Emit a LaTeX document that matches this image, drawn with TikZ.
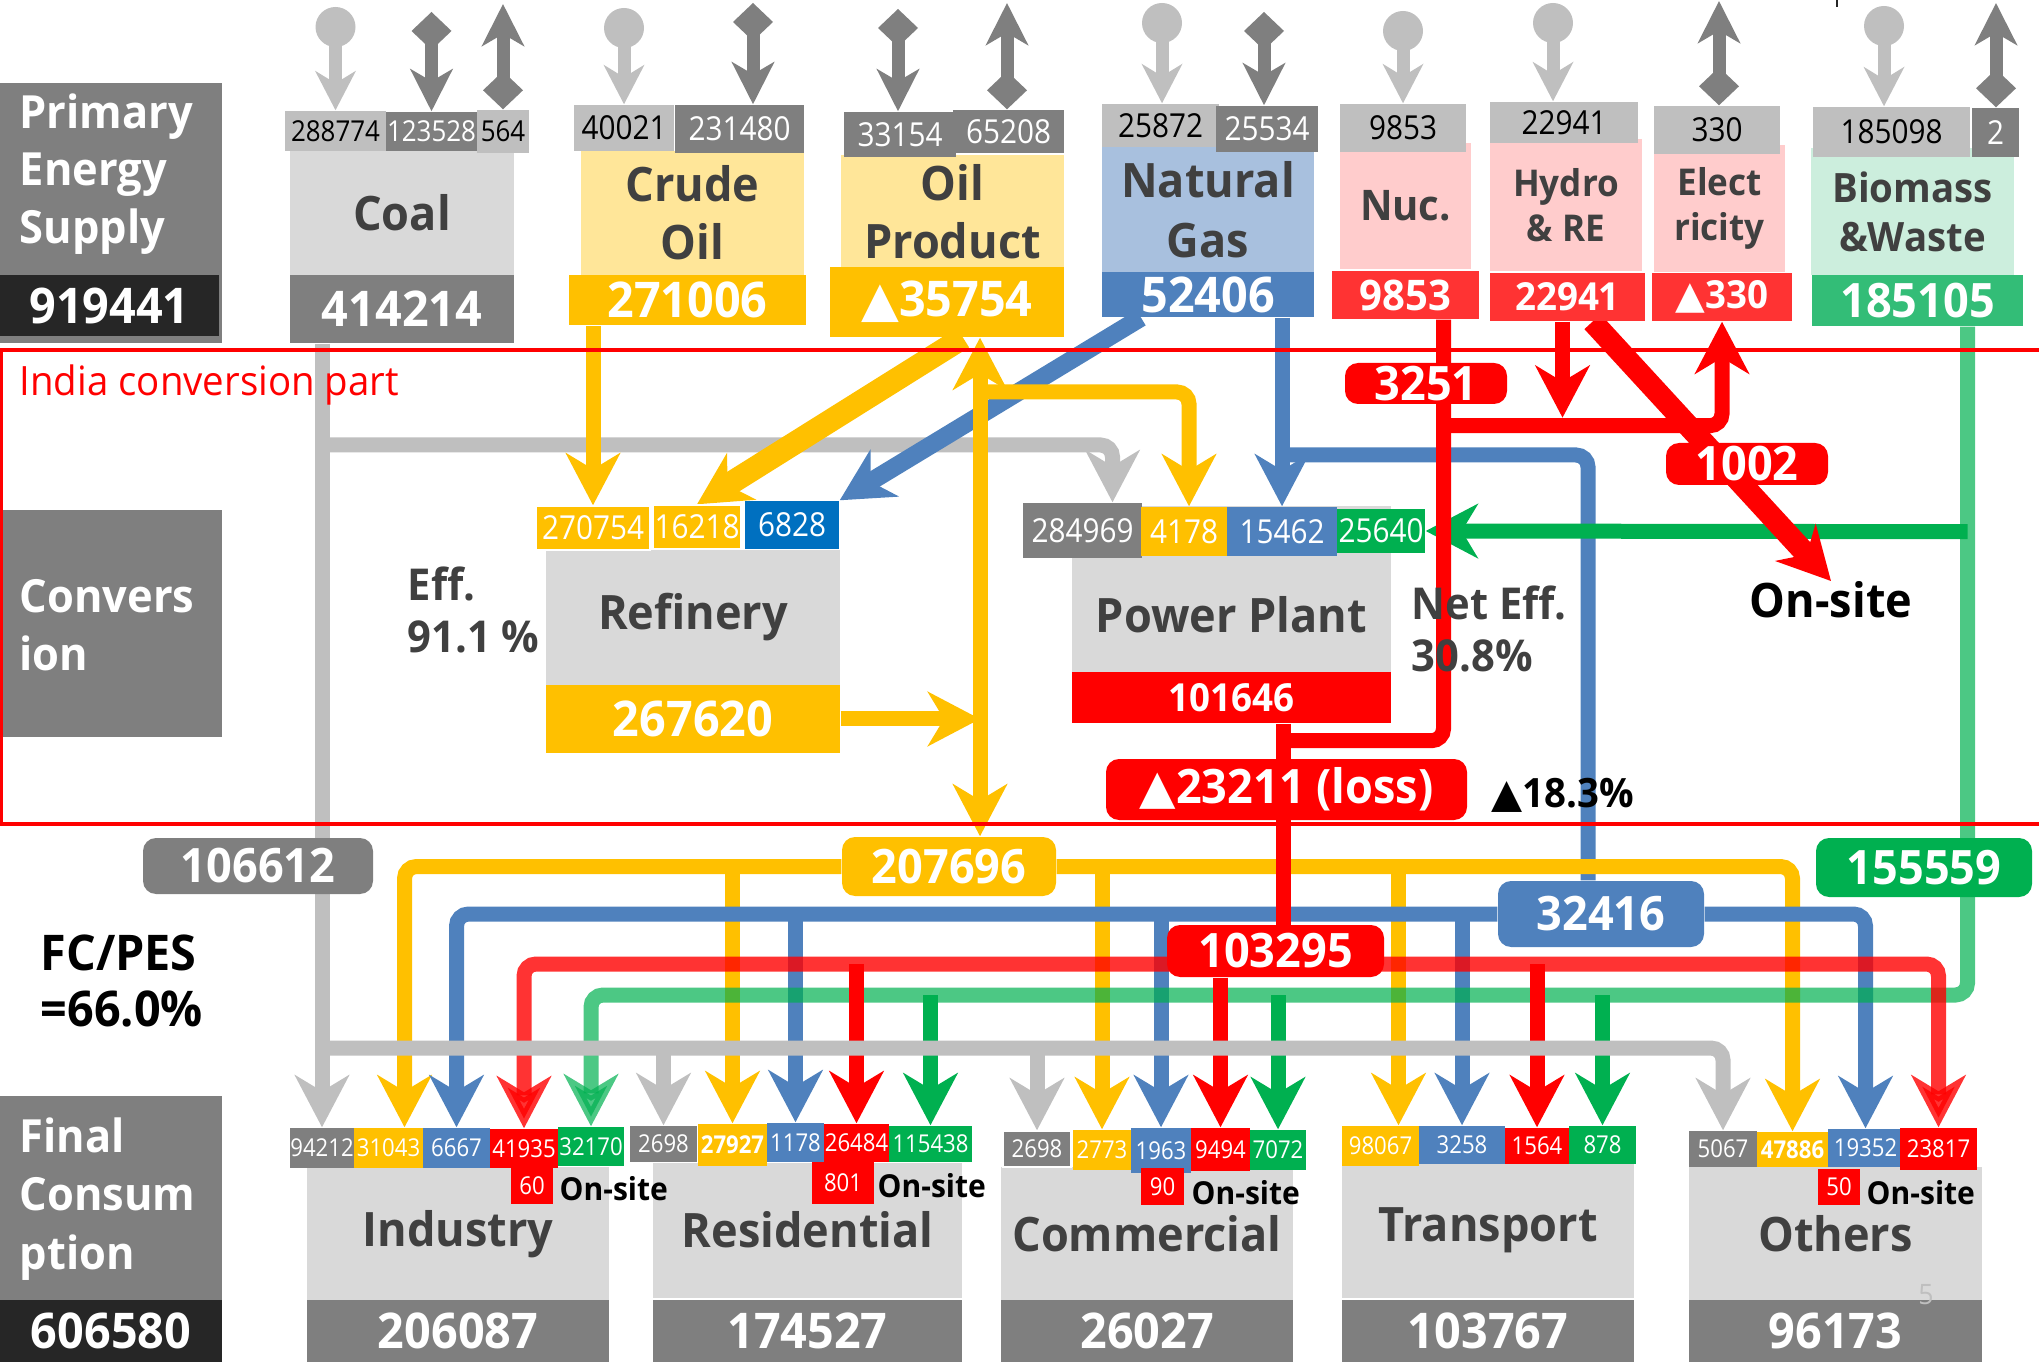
\documentclass[tikz,border=0pt]{standalone}
\usepackage{fontspec}
\setmainfont{Open Sans}[FakeStretch=0.95]
\newfontfamily\numf[FakeStretch=0.9]{Open Sans}
\newfontfamily\symf{DejaVu Sans}
\usetikzlibrary{arrows.meta,calc}
\pgfdeclarelayer{back}
\pgfsetlayers{back,main}

\definecolor{cDGray}{HTML}{7F7F7F}
\definecolor{cLGray}{HTML}{BFBFBF}
\definecolor{cBoxGray}{HTML}{D9D9D9}
\definecolor{cBlack}{HTML}{262626}
\definecolor{cTxt}{HTML}{404040}
\definecolor{cGold}{HTML}{FFC000}
\definecolor{cLGold}{HTML}{FFE699}
\definecolor{cBlue}{HTML}{4F81BD}
\definecolor{cLBlue}{HTML}{A8C0DE}
\definecolor{cDBlue}{HTML}{0070C0}
\definecolor{cRed}{HTML}{FF0000}
\definecolor{cLRed}{HTML}{FF3333}
\definecolor{cPink}{HTML}{FFCCCC}
\definecolor{cGreen}{HTML}{00B050}
\definecolor{cMGreen}{HTML}{33BD77}
\definecolor{cLGreen}{HTML}{CCEEDD}

\tikzset{
  side/.style={fill=cDGray, inner sep=0pt},
  sidetxt/.style={text=white, align=left, inner sep=0pt, font=\bfseries\fontsize{13}{16.4}\selectfont},
  tbox/.style={fill=cBoxGray, inner sep=0pt, text=cTxt, align=center, font=\bfseries\fontsize{13.5}{16.4}\selectfont},
  nbox/.style={inner sep=0pt, text=white, font=\bfseries\fontsize{14}{16}\selectfont},
  rbox/.style={rounded corners=1.3mm, inner sep=0pt, text=white, font=\bfseries\fontsize{13.5}{16}\selectfont},
  lab/.style={inner sep=0pt, text=white, font=\numf\fontsize{9.4}{10}\selectfont},
  llab/.style={lab, fill=cLGray, text=black},
  dlab/.style={lab, fill=cDGray},
  slab/.style={inner sep=0pt, text=white, font=\numf\fontsize{7}{8}\selectfont},
  note/.style={inner sep=0pt, text=cTxt, align=left, font=\bfseries\fontsize{12.5}{14.6}\selectfont},
  onsite/.style={inner sep=0pt, font=\bfseries\fontsize{9}{10}\selectfont},
  gyline/.style={draw=cLGray, line width=1.5mm},
  yline/.style={draw=cGold, line width=1.5mm},
  bline/.style={draw=cBlue, line width=1.5mm},
  rline/.style={draw=cRed, line width=1.5mm},
  gline/.style={draw=cGreen, line width=1.5mm},
  pinarrow/.style={draw=cLGray, line width=1.3mm, -{Stealth[length=3.9mm,width=4mm,inset=1.2mm]}},
  imp/.style={draw=cDGray, line width=1.3mm, {Diamond[length=3.8mm,width=4mm]}-{Stealth[length=4.2mm,width=4.2mm,inset=1.2mm]}}
}

\begin{document}
\begin{tikzpicture}[x=0.1mm, y=-0.1mm, >={Stealth[length=5.2mm,width=5.4mm,inset=1.6mm]}]
\useasboundingbox (0,0) rectangle (2039,1362);

% primary energy supply
\node[side, minimum width=22.2mm, minimum height=26mm] (pes) at (111,213) {};
\node[sidetxt, anchor=west] (pesT) at (19,174) {Primary\\Energy\\Supply};
\node[nbox, fill=cBlack, minimum width=21.9mm, minimum height=6.1mm] (pesN) at (109.5,305.5) {919441};

% coal
\node[tbox, minimum width=22.4mm, minimum height=12.4mm] (coal) at (402,213) {Coal};
\node[nbox, fill=cDGray, minimum width=22.4mm, minimum height=6.8mm] (coalN) at (402,309) {414214};
\node[llab, minimum width=10.1mm, minimum height=4mm, font=\numf\fontsize{8.2}{9}\selectfont] (c1) at (335.5,131) {288774};
\node[dlab, minimum width=9.1mm, minimum height=3.9mm, font=\numf\fontsize{8.2}{9}\selectfont] (c2) at (431.5,131.5) {123528};
\node[llab, minimum width=5.2mm, minimum height=4.3mm, font=\numf\fontsize{8.2}{9}\selectfont] (c3) at (503,131.5) {564};

% crude oil
\node[tbox, fill=cLGold, minimum width=22.3mm, minimum height=12.4mm] (crude) at (692.5,213) {Crude\\Oil};
\node[nbox, fill=cGold, minimum width=23.7mm, minimum height=5mm] (crudeN) at (687.5,300) {271006};
\node[llab, minimum width=10mm, minimum height=4.6mm] (cr1) at (624,128) {40021};
\node[dlab, minimum width=12.9mm, minimum height=4.8mm] (cr2) at (739.5,129) {231480};

% oil product
\node[tbox, fill=cLGold, minimum width=22.3mm, minimum height=11.4mm] (oilp) at (952.5,212) {Oil\\Product};
\node[nbox, fill=cGold, minimum width=23.4mm, minimum height=7mm] (opN) at (947,302) {{\symf ▲}35754};
\node[dlab, minimum width=11.2mm, minimum height=4.5mm] (op1) at (900,134.5) {33154};
\node[dlab, minimum width=11.1mm, minimum height=4.3mm] (op2) at (1008.5,131.5) {65208};

% natural gas
\node[tbox, fill=cLBlue, minimum width=21.2mm, minimum height=12.5mm, font=\bfseries\fontsize{13.5}{17}\selectfont] (ng) at (1208,209.5) {Natural\\Gas};
\node[nbox, fill=cBlue, minimum width=21.2mm, minimum height=4.5mm] (ngN) at (1208,294.5) {52406};
\node[llab, minimum width=11.7mm, minimum height=4.3mm] (g1) at (1160.5,125.5) {25872};
\node[dlab, minimum width=10.2mm, minimum height=4.6mm] (g2) at (1267,129) {25534};

% nuclear
\node[tbox, fill=cPink, minimum width=13.1mm, minimum height=12.6mm, font=\bfseries\fontsize{12}{14}\selectfont] (nuc) at (1405.5,206) {Nuc.};
\node[nbox, fill=cLRed, minimum width=14.7mm, minimum height=4.8mm, font=\bfseries\fontsize{12}{14}\selectfont] (nucN) at (1405.5,295) {9853};
\node[llab, minimum width=12.6mm, minimum height=4.8mm] (n1) at (1403,128) {9853};

% hydro and renewables
\node[tbox, fill=cPink, minimum width=15.2mm, minimum height=13.2mm, font=\bfseries\fontsize{10.5}{12.8}\selectfont] (hyd) at (1566,205) {Hydro\\\&~RE};
\node[nbox, fill=cLRed, minimum width=15.5mm, minimum height=4.8mm, font=\bfseries\fontsize{11}{13}\selectfont] (hydN) at (1567.5,297) {22941};
\node[llab, minimum width=14.8mm, minimum height=4.1mm] (h1) at (1564,122.5) {22941};

% electricity
\node[tbox, fill=cPink, minimum width=13.1mm, minimum height=12.7mm, font=\bfseries\fontsize{10.5}{12.8}\selectfont] (elec) at (1719.5,208.5) {Elect\\ricity};
\node[nbox, fill=cLRed, minimum width=14mm, minimum height=4.8mm, font=\bfseries\fontsize{11}{13}\selectfont] (elecN) at (1722,297) {{\symf ▲}330};
\node[llab, minimum width=12.6mm, minimum height=4.8mm] (e1) at (1717,130) {330};

% biomass
\node[tbox, fill=cLGreen, minimum width=20.3mm, minimum height=12.7mm, font=\bfseries\fontsize{11.5}{14}\selectfont] (bio) at (1912.5,211.5) {Biomass\\\&Waste};
\node[nbox, fill=cMGreen, minimum width=21.1mm, minimum height=5.1mm, font=\bfseries\fontsize{13.5}{15}\selectfont] (bioN) at (1917.5,300.5) {185105};
\node[llab, minimum width=15.7mm, minimum height=5mm] (b1) at (1891.5,132) {185098};
\node[dlab, minimum width=4.7mm, minimum height=4.9mm] (b2) at (1995.5,132.5) {2};

% imports, exports and own production
\coordinate (pinC) at (335.5,27);
\coordinate (impC) at (431.5,12);
\coordinate (expC) at (503,4);
\coordinate (pinO) at (624,28);
\coordinate (impO) at (753,3);
\coordinate (impP) at (898,9);
\coordinate (expP) at (1007,3);
\coordinate (pinG) at (1162,23);
\coordinate (impG) at (1264,12);
\coordinate (pinN) at (1403,31);
\coordinate (pinH) at (1553,23);
\coordinate (expE) at (1719,1);
\coordinate (pinB) at (1884,26);
\coordinate (expB) at (1996,3);
\draw[pinarrow] (pinC) -- (c1.north);
\draw[pinarrow] (pinO) -- (cr1.north);
\draw[pinarrow] (pinG) -- (pinG |- g1.north);
\draw[pinarrow] (pinN) -- (n1.north);
\draw[pinarrow] (pinH) -- (pinH |- h1.north);
\draw[pinarrow] (pinB) -- (pinB |- b1.north);
\fill[cLGray] (pinC) circle (2mm);
\fill[cLGray] (pinO) circle (2mm);
\fill[cLGray] (pinG) circle (2mm);
\fill[cLGray] (pinN) circle (2mm);
\fill[cLGray] (pinH) circle (2mm);
\fill[cLGray] (pinB) circle (2mm);
\draw[imp] (impC) -- (c2.north);
\draw[imp] (impO) -- (impO |- cr2.north);
\draw[imp] (impP) -- (impP |- op1.north);
\draw[imp] (impG) -- (impG |- g2.north);
\draw[imp] (c3.north) -- (expC);
\draw[imp] (expP |- op2.north) -- (expP);
\draw[imp] (expE |- e1.north) -- (expE);
\draw[imp] (expB |- b2.north) -- (expB);
\draw[cBlack, line width=0.25mm] (1837,0) -- (1837,7);

% conversion
\node[side, minimum width=22.2mm, minimum height=22.7mm] (conv) at (111,623.5) {};
\node[sidetxt, anchor=west] (convT) at (19,625) {Convers\\ion};
\node[anchor=west, inner sep=0pt, text=cRed, font=\fontsize{11.5}{13}\selectfont] (india) at (19,385) {India conversion part};

% refinery
\node[tbox, minimum width=29.4mm, minimum height=13.5mm] (ref) at (693,617.5) {Refinery};
\node[nbox, fill=cGold, minimum width=29.4mm, minimum height=6.8mm] (refN) at (693,719) {267620};
\node[lab, fill=cGold, draw=white, minimum width=11.4mm, minimum height=4.4mm] (r1) at (593,528) {270754};
\node[lab, fill=cGold, draw=white, minimum width=8.8mm, minimum height=4.4mm] (r2) at (697,527) {16218};
\node[lab, fill=cDBlue, minimum width=9.4mm, minimum height=4.8mm] (r3) at (792,525) {6828};
\node[note, anchor=west] (effR) at (407,610) {Eff.\\91.1 \%};

% power plant
\node[tbox, minimum width=31.9mm, minimum height=16.6mm] (pp) at (1231.5,589) {};
\node[tbox, fill=none] (ppT) at (1231.5,615) {Power Plant};
\node[nbox, fill=cRed, minimum width=31.9mm, minimum height=5.1mm, font=\bfseries\fontsize{11}{13}\selectfont] (ppN) at (1231.5,697.5) {101646};
\node[dlab, minimum width=11.9mm, minimum height=5.5mm] (p1) at (1082.5,530.5) {284969};
\node[lab, fill=cGold, minimum width=8.6mm, minimum height=4.9mm] (p2) at (1184,531.5) {4178};
\node[lab, fill=cBlue, minimum width=11mm, minimum height=4.9mm] (p3) at (1282,531.5) {15462};
\node[lab, fill=cGreen, minimum width=8.8mm, minimum height=4.4mm] (p4) at (1381,531) {25640};
\node[note, anchor=west, font=\bfseries\fontsize{12.5}{14.8}\selectfont] (effP) at (1411,629) {Net Eff.\\30.8\%};

% flow totals
\node[rbox, fill=cRed, minimum width=16.2mm, minimum height=4.1mm] (n3251) at (1426,383.5) {3251};
\node[rbox, fill=cRed, minimum width=16.2mm, minimum height=4.2mm] (n1002) at (1747,464) {1002};
\node[inner sep=0pt, font=\bfseries\fontsize{13.5}{15}\selectfont] (onsiteA) at (1831,600) {On-site};
\node[rbox, fill=cRed, minimum width=36.1mm, minimum height=6.1mm] (loss) at (1286.5,789.5) {{\symf ▲}23211 (loss)};
\node[inner sep=0pt, font=\bfseries\fontsize{11.5}{13}\selectfont] (lossP) at (1563,795) {{\symf ▲}18.3\%};
\node[rbox, fill=cDGray, minimum width=23mm, minimum height=5.6mm] (n106612) at (258,866) {106612};
\node[rbox, fill=cGold, minimum width=21.4mm, minimum height=5.9mm] (n207696) at (949,866.5) {207696};
\node[rbox, fill=cGreen, minimum width=21.6mm, minimum height=5.9mm] (n155559) at (1924,867.5) {155559};
\node[rbox, fill=cBlue, minimum width=20.6mm, minimum height=6.6mm] (n32416) at (1601,914) {32416};
\node[rbox, fill=cRed, minimum width=21.7mm, minimum height=5.2mm] (n103295) at (1275.5,951) {103295};
\node[inner sep=0pt, anchor=west, align=left, font=\bfseries\fontsize{14}{16.2}\selectfont] (fcpes) at (40,981) {FC/PES\\=66.0\%};

% final consumption
\node[side, minimum width=22.2mm, minimum height=20.4mm] (fin) at (111,1198) {};
\node[sidetxt, anchor=west, font=\bfseries\fontsize{13}{16.6}\selectfont] (finT) at (19,1199) {Final\\Consum\\ption};
\node[nbox, fill=cBlack, minimum width=22.2mm, minimum height=6.2mm] (finN) at (111,1331) {606580};

\node[tbox, minimum width=30.2mm, minimum height=13.5mm] (ind) at (458,1234) {Industry};
\node[nbox, fill=cDGray, minimum width=30.2mm, minimum height=6.2mm] (indN) at (458,1331) {206087};
\node[tbox, minimum width=30.9mm, minimum height=13.5mm] (res) at (807.5,1230) {Residential};
\node[nbox, fill=cDGray, minimum width=30.9mm, minimum height=6.2mm] (resN) at (807.5,1331) {174527};
\node[tbox, minimum width=29.2mm, minimum height=13.5mm] (com) at (1147,1234) {Commercial};
\node[nbox, fill=cDGray, minimum width=29.2mm, minimum height=6.2mm] (comN) at (1147,1331) {26027};
\node[tbox, minimum width=29.2mm, minimum height=13.5mm] (tra) at (1488,1230) {Transport};
\node[nbox, fill=cDGray, minimum width=29.2mm, minimum height=6.2mm] (traN) at (1488,1331) {103767};
\node[tbox, minimum width=29.3mm, minimum height=13.5mm] (oth) at (1835.5,1234) {Others};
\node[nbox, fill=cDGray, minimum width=29.3mm, minimum height=6.2mm] (othN) at (1835.5,1331) {96173};
\node[text=cLGray, inner sep=0pt, font=\fontsize{8}{9}\selectfont] (pg) at (1926,1295) {5};

\node[slab, fill=cDGray, minimum width=6.4mm, minimum height=4mm] (ind1) at (322,1148) {94212};
\node[slab, fill=cGold, minimum width=6.9mm, minimum height=4mm] (ind2) at (388.5,1148) {31043};
\node[slab, fill=cBlue, minimum width=6.7mm, minimum height=4mm] (ind3) at (456.5,1148) {6667};
\node[slab, fill=cRed, minimum width=6.8mm, minimum height=3.9mm] (ind4) at (524,1148.5) {41935};
\node[slab, fill=cGreen, minimum width=6.6mm, minimum height=3.9mm] (ind5) at (591,1146.5) {32170};
\node[slab, fill=cRed, minimum width=4.2mm, minimum height=3.6mm] (ind6) at (532,1186) {60};
\node[onsite, anchor=west] (ind7) at (559,1189) {On-site};

\node[slab, fill=cDGray, minimum width=6.7mm, minimum height=3.6mm] (res1) at (663.5,1144) {2698};
\node[slab, fill=cGold, minimum width=6.9mm, minimum height=4.2mm, font=\numf\bfseries\fontsize{7}{8}\selectfont] (res2) at (732.5,1145) {27927};
\node[slab, fill=cBlue, minimum width=5.7mm, minimum height=3.9mm] (res3) at (795.5,1142.5) {1178};
\node[slab, fill=cRed, minimum width=6.5mm, minimum height=3.8mm] (res4) at (856.5,1143) {26484};
\node[slab, fill=cGreen, minimum width=8.3mm, minimum height=3.6mm] (res5) at (930.5,1144) {115438};
\node[slab, fill=cRed, minimum width=6.2mm, minimum height=4.2mm] (res6) at (843,1183) {801};
\node[onsite, anchor=west] (res7) at (877,1186) {On-site};

\node[slab, fill=cDGray, draw=white, minimum width=6.8mm, minimum height=3.6mm] (com1) at (1037,1149) {2698};
\node[slab, fill=cGold, minimum width=5.8mm, minimum height=4mm] (com2) at (1102,1150) {2773};
\node[slab, fill=cBlue, minimum width=6mm, minimum height=4.5mm] (com3) at (1161,1150.5) {1963};
\node[slab, fill=cRed, minimum width=5.9mm, minimum height=4.3mm] (com4) at (1220.5,1149.5) {9494};
\node[slab, fill=cGreen, minimum width=5.6mm, minimum height=4mm] (com5) at (1278,1150) {7072};
\node[slab, fill=cRed, minimum width=4.3mm, minimum height=3.7mm] (com6) at (1162.5,1186.5) {90};
\node[onsite, anchor=west] (com7) at (1191,1193) {On-site};

\node[slab, fill=cGold, minimum width=7.7mm, minimum height=4mm] (tra1) at (1380.5,1146) {98067};
\node[slab, fill=cBlue, minimum width=8.6mm, minimum height=3.8mm] (tra2) at (1462,1145) {3258};
\node[slab, fill=cRed, minimum width=6.4mm, minimum height=3.6mm] (tra3) at (1537,1146) {1564};
\node[slab, fill=cGreen, minimum width=6.7mm, minimum height=3.8mm] (tra4) at (1602.5,1145) {878};

\node[slab, fill=cDGray, minimum width=6.8mm, minimum height=3.6mm] (oth1) at (1723,1149) {5067};
\node[slab, fill=cGold, minimum width=7.1mm, minimum height=3.5mm, font=\numf\bfseries\fontsize{7}{8}\selectfont] (oth2) at (1792.5,1149.5) {47886};
\node[slab, fill=cBlue, minimum width=7.5mm, minimum height=3.8mm] (oth3) at (1865.5,1148) {19352};
\node[slab, fill=cRed, minimum width=7.7mm, minimum height=4.2mm] (oth4) at (1938.5,1149) {23817};
\node[slab, fill=cRed, minimum width=4.2mm, minimum height=3.6mm] (oth5) at (1839,1187) {50};
\node[onsite, anchor=west] (oth6) at (1866,1193) {On-site};

% junctions of the flow lines
\coordinate (ob) at (0,392);
\coordinate (gj) at (0,445);
\coordinate (bj) at (0,455);
\coordinate (oj) at (980,713);
\coordinate (rbus) at (0,964);
\coordinate (grbus) at (0,995);
\coordinate (gybus) at (0,1048);

\begin{pgfonlayer}{back}
% coal
\draw[gyline, ->] (ind1.north |- coalN.south) -- (ind1.north);
\draw[gyline, ->, rounded corners=1.2mm] (ind1.north |- gj) -| ($(p1.north)+(30,0)$);
% natural gas
\draw[bline, line width=1.8mm, ->] ($(ngN.south)+(-67,0)$) -- (r3.north east);
\draw[bline, ->] (p3.north |- ngN.south) -- (p3.north);
\draw[bline, rounded corners=1.2mm] (p3.north |- bj) -| ($(n32416.north)+(-13,0)$);
% oil
\draw[yline, ->] (r1.north |- crudeN.south) -- (r1.north);
\draw[yline, line width=2.3mm, ->] ($(opN.south)+(16,0)$) -- (r2.north);
\draw[yline, <->] (oj |- opN.south) -- (oj |- n207696.north);
\draw[yline, ->] (refN.east) -- (refN.east -| oj);
\draw[yline, ->, rounded corners=1.2mm] (oj |- ob) -| ($(p2.north)+(5,0)$);
% biomass to power plant
\draw[gline, ->] ($(bioN.south)+(50,205)$) -- (p4.east);
% electricity
\draw[rline, rounded corners=1.2mm] ($(nucN.south)+(38,0)$) |- ($(ppN.south)+(52,17)$);
\draw[rline, ->, rounded corners=1.2mm] ($(nucN.south)+(38,106)$) -| (elecN.south);
\draw[rline, ->] ($(hydN.south)+(-5,0)$) -- ($(hydN.south)+(-5,96)$);
\draw[rline, line width=2.2mm, ->] ($(hydN.south)+(25,0)$) -- (onsiteA.north);
% final consumption
\draw[yline, ->, rounded corners=1.2mm] (n207696.west) -| ($(ind2.north)+(16,0)$);
\draw[yline, ->, rounded corners=1.2mm] (n207696.east) -| (oth2.north);
\draw[yline, ->] (res2.north |- n207696.west) -- (res2.north);
\draw[yline, ->] (com2.north |- n207696.west) -- (com2.north);
\draw[yline, ->] ($(tra1.north |- n207696.west)+(18,0)$) -- ($(tra1.north)+(18,0)$);
\draw[bline, ->, rounded corners=1.2mm] (n32416.west) -| (ind3.north);
\draw[bline, ->, rounded corners=1.2mm] (n32416.east) -| (oth3.north);
\draw[bline, ->] (res3.north |- n32416.west) -- (res3.north);
\draw[bline, ->] (com3.north |- n32416.west) -- (com3.north);
\draw[bline, ->] (tra2.north |- n32416.west) -- (tra2.north);
\draw[rline] ($(ppN.south)+(52,0)$) -- ($(ppN.south)+(52,210)$);
\draw[gline, opacity=0.7, ->, rounded corners=1.2mm] ($(bioN.south)+(50,0)$) |- (ind5.north |- grbus) -- (ind5.north);
\draw[rline, opacity=0.8, <->, rounded corners=1.2mm] (ind4.north) |- (rbus -| n103295) -| (oth4.north);
\draw[rline, ->] (res4.north |- rbus) -- (res4.north);
\draw[rline, ->] (com4.north |- n103295.south) -- (com4.north);
\draw[rline, ->] (tra3.north |- rbus) -- (tra3.north);
\draw[gline, ->] (res5.north |- grbus) -- (res5.north);
\draw[gline, ->] (com5.north |- grbus) -- (com5.north);
\draw[gline, ->] (tra4.north |- grbus) -- (tra4.north);
\draw[gyline, ->, rounded corners=1.2mm] (ind1.north |- gybus) -| (oth1.north);
\draw[gyline, ->] (res1.north |- gybus) -- (res1.north);
\draw[gyline, ->] (com1.north |- gybus) -- (com1.north);
\end{pgfonlayer}

\draw[cRed, line width=0.4mm] (1,350) rectangle (2050,824);
\end{tikzpicture}
\end{document}
